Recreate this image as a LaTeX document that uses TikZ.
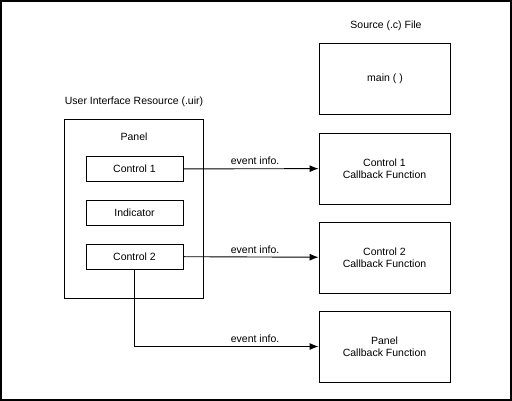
\documentclass[tikz,border=0pt]{standalone}
\usepackage{fontspec}
\setmainfont{Liberation Sans}
\usetikzlibrary{arrows.meta,positioning}

\begin{document}
\begin{tikzpicture}[x=1pt, y=-1pt, font=\fontsize{10.5}{12.5}\selectfont]
\tikzstyle{every path}=[line width=0.9pt];
\tikzstyle{bigbox}=[draw, minimum width=131pt, minimum height=71pt, inner sep=0pt, align=center];
\tikzstyle{smallbox}=[draw, minimum width=97pt, minimum height=25pt, inner sep=0pt];
\tikzstyle{info}=[-{Latex[length=9pt, width=7pt]}];
\useasboundingbox (0, 0) rectangle (512, 401);
\draw[line width=1.8pt] (0.9, 0.9) rectangle (511.1, 400.1);
% source file side
\path (386, 26) node (srclabel) {Source (.c) File}
(385, 78.5) node (main)[bigbox] {main ( )}
(384.5, 168.5) node (cbone)[bigbox] {Control 1\\Callback Function}
(384.5, 257.5) node (cbtwo)[bigbox] {Control 2\\Callback Function}
(384.5, 346.5) node (cbpanel)[bigbox] {Panel\\Callback Function};
% user interface side
\path (134, 102) node (uirlabel) {User Interface Resource (.uir)}
(134, 208.5) node (panel)[draw, minimum width=139pt, minimum height=179pt] {}
(134, 137) node (panellabel) {Panel}
(134.5, 169) node (ctrlone)[smallbox] {Control 1}
(134.5, 212.5) node (indicator)[smallbox] {Indicator}
(134.5, 256.5) node (ctrltwo)[smallbox] {Control 2};
\coordinate (bend) at (ctrltwo.south |- cbpanel.west);
\draw[info] (ctrlone) -- node[above, pos=0.53] {event info.} (cbone);
\draw[info] (ctrltwo) -- node[above, pos=0.53] {event info.} (cbtwo);
\draw[info] (ctrltwo.south) -- (bend) -- node[above, pos=0.655] {event info.} (cbpanel);
\end{tikzpicture}
\end{document}
